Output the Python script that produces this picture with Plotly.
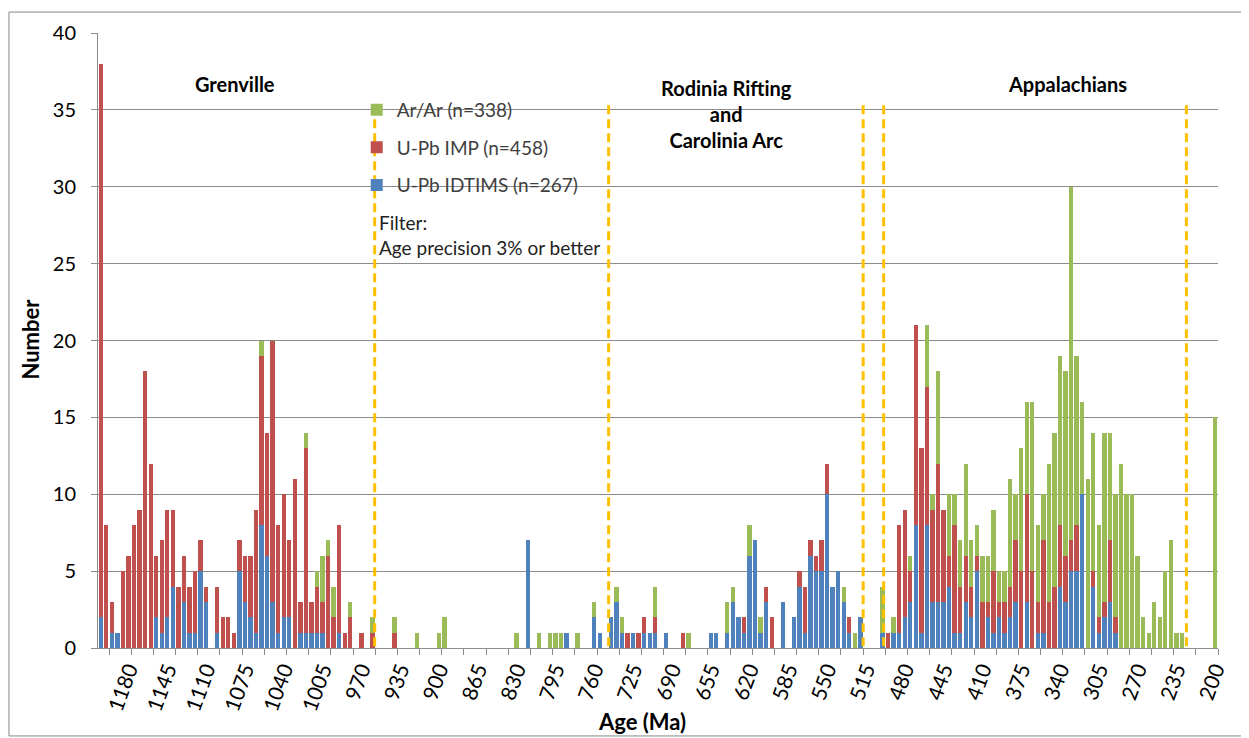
import plotly.graph_objects as go

# age bins (Ma), oldest on the left, 5 Ma wide
AGES = list(range(1205, 195, -5))

IDTIMS = [
    2, 0, 1, 1, 0, 0, 0, 0, 0, 0,
    2, 1, 2, 4, 0, 3, 1, 1, 5, 3,
    0, 1, 0, 0, 0, 5, 3, 2, 1, 8,
    6, 3, 1, 2, 2, 0, 1, 1, 1, 1,
    1, 0, 0, 1, 0, 0, 0, 0, 0, 0,
    0, 0, 0, 0, 0, 0, 0, 0, 0, 0,
    0, 0, 0, 0, 0, 0, 0, 0, 0, 0,
    0, 0, 0, 0, 0, 0, 0, 7, 0, 0,
    0, 0, 0, 0, 1, 0, 0, 0, 0, 2,
    1, 0, 2, 3, 1, 0, 1, 0, 1, 1,
    1, 0, 1, 0, 0, 0, 0, 0, 0, 0,
    1, 1, 0, 1, 3, 2, 1, 6, 7, 1,
    3, 0, 0, 3, 0, 2, 4, 1, 6, 5,
    5, 10, 4, 5, 3, 1, 0, 2, 0, 0,
    0, 1, 0, 1, 1, 2, 3, 8, 1, 8,
    3, 3, 3, 4, 1, 1, 3, 2, 5, 0,
    2, 1, 2, 1, 2, 3, 0, 3, 0, 1,
    1, 0, 0, 4, 3, 5, 5, 10, 0, 4,
    1, 2, 3, 1, 0, 0, 0, 0, 0, 0,
    0, 0, 0, 0, 0, 0, 0, 0, 0, 0,
    0, 0,
]
IMP = [
    36, 8, 2, 0, 5, 6, 8, 9, 18, 12,
    4, 6, 7, 5, 4, 3, 3, 4, 2, 1,
    0, 3, 2, 2, 1, 2, 3, 4, 8, 11,
    8, 17, 7, 8, 5, 11, 2, 12, 2, 3,
    2, 6, 2, 7, 1, 2, 0, 1, 0, 1,
    0, 0, 0, 1, 0, 0, 0, 0, 0, 0,
    0, 0, 0, 0, 0, 0, 0, 0, 0, 0,
    0, 0, 0, 0, 0, 0, 0, 0, 0, 0,
    0, 0, 0, 0, 0, 0, 0, 0, 0, 0,
    0, 0, 0, 0, 0, 1, 0, 1, 1, 0,
    1, 0, 0, 0, 0, 1, 0, 0, 0, 0,
    0, 0, 0, 0, 0, 0, 1, 0, 0, 0,
    1, 2, 0, 0, 0, 0, 1, 3, 1, 1,
    2, 2, 0, 0, 0, 1, 0, 0, 0, 0,
    0, 0, 1, 0, 7, 7, 2, 13, 12, 9,
    6, 9, 6, 2, 7, 3, 3, 2, 1, 3,
    1, 4, 1, 2, 2, 4, 5, 7, 5, 2,
    6, 3, 4, 4, 3, 2, 3, 0, 0, 1,
    1, 1, 4, 1, 0, 0, 0, 0, 0, 0,
    0, 0, 0, 0, 0, 0, 0, 0, 0, 0,
    0, 0,
]
ARAR = [
    0, 0, 0, 0, 0, 0, 0, 0, 0, 0,
    0, 0, 0, 0, 0, 0, 0, 0, 0, 0,
    0, 0, 0, 0, 0, 0, 0, 0, 0, 1,
    0, 0, 0, 0, 0, 0, 0, 1, 0, 1,
    3, 1, 2, 0, 0, 1, 0, 0, 0, 1,
    0, 0, 0, 1, 0, 0, 0, 1, 0, 0,
    0, 1, 2, 0, 0, 0, 0, 0, 0, 0,
    0, 0, 0, 0, 0, 1, 0, 0, 0, 1,
    0, 1, 1, 1, 0, 0, 1, 0, 0, 1,
    0, 0, 0, 1, 1, 0, 0, 0, 0, 0,
    2, 0, 0, 0, 0, 0, 1, 0, 0, 0,
    0, 0, 0, 2, 1, 0, 0, 2, 0, 1,
    0, 0, 0, 0, 0, 0, 0, 0, 0, 0,
    0, 0, 0, 0, 1, 0, 1, 0, 0, 0,
    0, 3, 0, 1, 0, 0, 1, 0, 0, 4,
    1, 6, 0, 4, 2, 3, 6, 3, 2, 3,
    3, 4, 2, 2, 7, 3, 8, 6, 11, 5,
    3, 9, 10, 11, 12, 23, 11, 6, 11, 9,
    6, 11, 7, 8, 12, 10, 10, 6, 2, 1,
    3, 2, 5, 7, 1, 1, 0, 0, 0, 0,
    0, 15,
]

TICK_LABELS = [1180, 1145, 1110, 1075, 1040, 1005, 970, 935, 900, 865, 830, 795,
               760, 725, 690, 655, 620, 585, 550, 515, 480, 445, 410, 375, 340,
               305, 270, 235, 200]
BOUNDARIES = [958, 747, 517.5, 499, 226]

FONT = "Lato"
GRID = "#8c8c8c"

fig = go.Figure()
series = [
    ("U-Pb IDTIMS (n=267)", IDTIMS, "#4F81BD", 3),
    ("U-Pb IMP (n=458)", IMP, "#C0504D", 2),
    ("Ar/Ar (n=338)", ARAR, "#9BBB59", 1),
]
for name, vals, color, rank in series:
    fig.add_trace(go.Bar(x=AGES, y=vals, name=name, marker_color=color,
                         marker_line_width=0, legendgroup=name, legendrank=rank))

for age in BOUNDARIES:
    fig.add_shape(type="line", x0=age, x1=age, y0=-0.8, y1=35.6, xref="x", yref="y",
                  line=dict(color="#FFC000", width=3, dash="9px,5px"), layer="above")

# outer chart border
fig.add_shape(type="rect", xref="paper", yref="paper", x0=-0.0795, x1=1.0265,
              y0=-0.143, y1=1.034, line=dict(color="#868686", width=1))

bold = dict(family=FONT, size=20, color="#000000")
fig.add_annotation(x=0.1223, y=0.917, xref="paper", yref="paper", text="<b>Grenville</b>",
                   showarrow=False, font=bold, xanchor="center", yanchor="middle")
fig.add_annotation(x=0.5616, y=0.869, xref="paper", yref="paper",
                   text="<b>Rodinia Rifting</b><br><b>and</b><br><b>Carolinia Arc</b>",
                   showarrow=False, font=bold, xanchor="center", yanchor="middle")
fig.add_annotation(x=0.8652, y=0.917, xref="paper", yref="paper", text="<b>Appalachians</b>",
                   showarrow=False, font=bold, xanchor="center", yanchor="middle")

fig.add_annotation(x=0.249, y=0.672, xref="paper", yref="paper", xanchor="left",
                   yanchor="middle", align="left",
                   text="Filter:<br>Age precision 3% or better", showarrow=False,
                   font=dict(family=FONT, size=19, color="#222222"))

fig.add_annotation(x=-0.0607, y=0.5016, xref="paper", yref="paper", text="<b>Number</b>",
                   textangle=-90, showarrow=False, xanchor="center", yanchor="middle",
                   font=dict(family=FONT, size=22, color="#000"))
fig.add_annotation(x=0.4857, y=-0.1197, xref="paper", yref="paper", text="<b>Age (Ma)</b>",
                   showarrow=False, xanchor="center", yanchor="middle",
                   font=dict(family=FONT, size=22, color="#000"))

fig.update_layout(
    width=1241,
    height=730,
    barmode="stack",
    bargap=0.22,
    plot_bgcolor="white",
    paper_bgcolor="white",
    margin=dict(l=90, r=31, t=22, b=90),
    font=dict(family=FONT, size=18, color="#000000"),
    showlegend=True,
    legend=dict(
        x=0.231, y=0.906, xanchor="left", yanchor="top",
        traceorder="grouped", tracegroupgap=10,
        font=dict(family=FONT, size=19, color="#404040"),
        bgcolor="rgba(0,0,0,0)",
        itemwidth=30,
    ),
)
fig.update_xaxes(
    range=[1207.5, 197.5],
    tickmode="array",
    tickvals=TICK_LABELS,
    ticktext=[str(v) for v in TICK_LABELS],
    tickangle=-70,
    ticks="",
    tickfont=dict(family=FONT, size=21, color="#000"),
    showgrid=False,
    showline=True,
    linecolor=GRID,
    linewidth=1,
    zeroline=False,
    minor=dict(ticks="outside", tick0=197.5, dtick=20, ticklen=6, tickcolor=GRID,
               showgrid=False),
)
fig.update_yaxes(
    range=[0, 40],
    dtick=5,
    showgrid=True,
    gridcolor=GRID,
    gridwidth=1,
    showline=True,
    linecolor=GRID,
    linewidth=1,
    ticks="outside",
    ticklen=6,
    tickcolor=GRID,
    ticklabelstandoff=11,
    zeroline=False,
    tickfont=dict(family=FONT, size=20, color="#000"),
)

fig.write_html("out.html")
